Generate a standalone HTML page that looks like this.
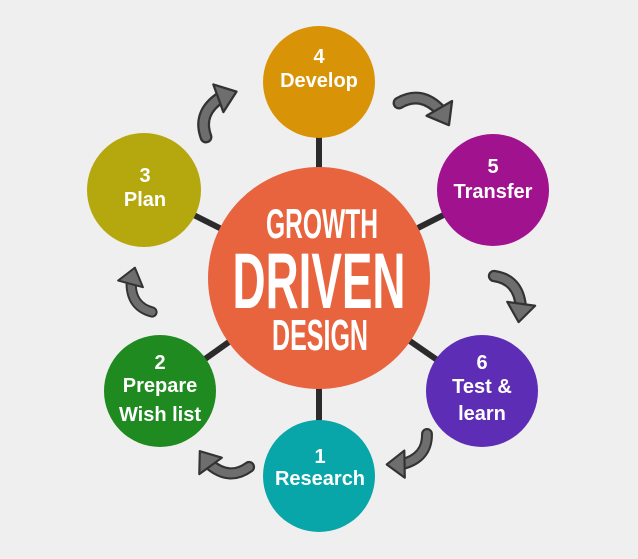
<!DOCTYPE html>
<html><head><style>
html,body{margin:0;padding:0;background:#efefef;}
svg{display:block;}
text{font-family:"Liberation Sans",sans-serif;font-weight:bold;fill:#fff;text-anchor:middle;}
</style></head><body>
<svg width="638" height="559" viewBox="0 0 638 559" xmlns="http://www.w3.org/2000/svg">
<defs>
<g id="arr">
<path d="M0,0 Q0,-28 30,-35" fill="none" stroke="#333" stroke-width="14" stroke-linecap="round"/>
<path d="M0,0 Q0,-28 30,-35" fill="none" stroke="#6e6e6e" stroke-width="9" stroke-linecap="round"/>
<polygon points="27,-51 48,-35 27,-19" fill="#6e6e6e" stroke="#333" stroke-width="2.5" stroke-linejoin="round"/>
</g>
</defs>
<g stroke="#2b2b2b" stroke-width="6">
<line x1="319" y1="278" x2="319" y2="82"/>
<line x1="319" y1="278" x2="493" y2="190"/>
<line x1="319" y1="278" x2="482" y2="391"/>
<line x1="319" y1="278" x2="319" y2="476"/>
<line x1="319" y1="278" x2="160" y2="391"/>
<line x1="319" y1="278" x2="144" y2="190"/>
</g>
<circle cx="319" cy="278" r="111" fill="#e7643f"/>
<circle cx="319" cy="82" r="56" fill="#d99307"/>
<circle cx="493" cy="190" r="56" fill="#a1128f"/>
<circle cx="482" cy="391" r="56" fill="#5e2db5"/>
<circle cx="319" cy="476" r="56" fill="#08a5a9"/>
<circle cx="160" cy="391" r="56" fill="#1f8a20"/>
<circle cx="144" cy="190" r="57" fill="#b5a70e"/>

<use href="#arr" transform="translate(206,137) rotate(-20) scale(0.92)"/>
<use href="#arr" transform="translate(399,103) rotate(60) scale(0.92)"/>
<use href="#arr" transform="translate(494,276) rotate(98) scale(0.88)"/>
<use href="#arr" transform="translate(427,434) rotate(179) scale(0.85)"/>
<use href="#arr" transform="translate(249,467) rotate(-126) scale(0.87)"/>
<use href="#arr" transform="translate(152,312) rotate(-75) scale(0.8)"/>

<text x="322" y="238" font-size="42" textLength="112" lengthAdjust="spacingAndGlyphs">GROWTH</text>
<text x="319" y="308" font-size="79" textLength="173" lengthAdjust="spacingAndGlyphs">DRIVEN</text>
<text x="320" y="350" font-size="44" textLength="96" lengthAdjust="spacingAndGlyphs">DESIGN</text>

<g font-size="20">
<text x="319" y="63">4</text>
<text x="319" y="87">Develop</text>
<text x="493" y="173">5</text>
<text x="493" y="198">Transfer</text>
<text x="145" y="182">3</text>
<text x="145" y="206">Plan</text>
<text x="160" y="369">2</text>
<text x="160" y="392">Prepare</text>
<text x="160" y="421">Wish list</text>
<text x="482" y="369">6</text>
<text x="482" y="393">Test &amp;</text>
<text x="482" y="420">learn</text>
<text x="320" y="463">1</text>
<text x="320" y="485">Research</text>
</g>
</svg>
</body></html>
